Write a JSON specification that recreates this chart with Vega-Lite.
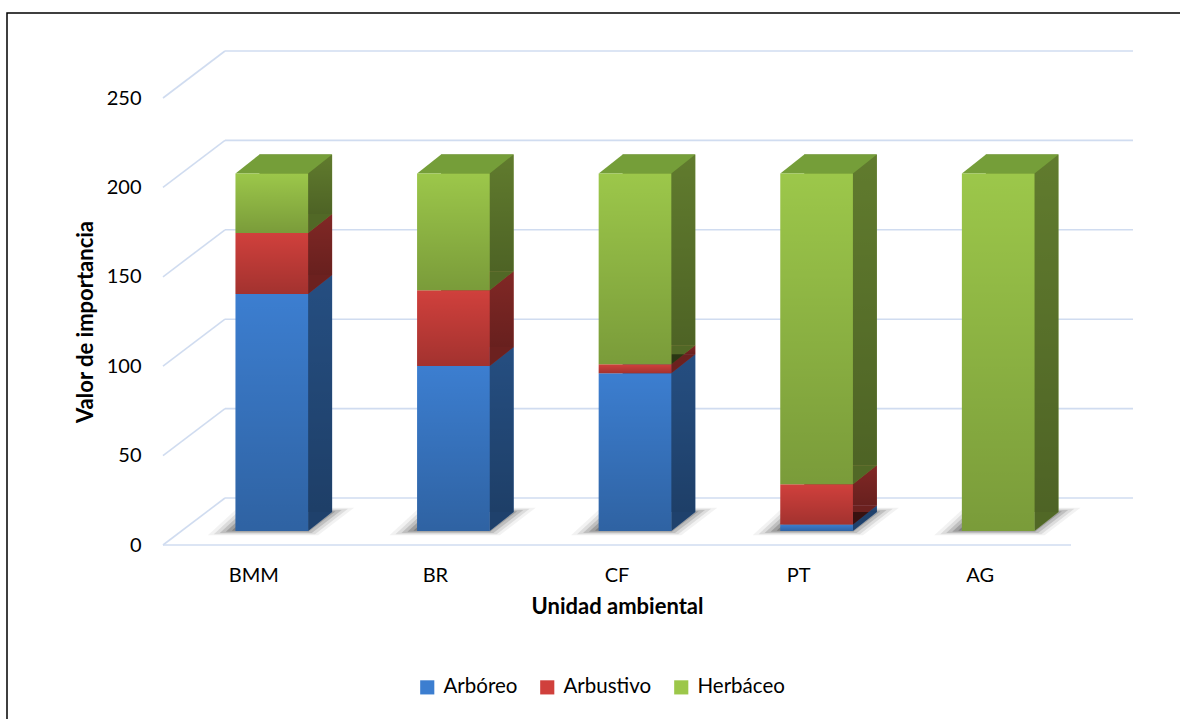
{
  "$schema": "https://vega.github.io/schema/vega-lite/v6.json",
  "autosize": "none",
  "padding": {"left": 7, "top": 13, "right": -20, "bottom": -20},
  "width": 1193,
  "height": 726,
  "background": "white",
  "config": {
    "view": {"stroke": "#000000", "strokeWidth": 1.5},
    "font": "Lato"
  },
  "datasets": {
    "valores": [
      {"unidad": "BMM", "estrato": "Arbóreo", "orden": 1, "valor": 132.6},
      {"unidad": "BMM", "estrato": "Arbustivo", "orden": 2, "valor": 34.0},
      {"unidad": "BMM", "estrato": "Herbáceo", "orden": 3, "valor": 33.4},
      {"unidad": "BR", "estrato": "Arbóreo", "orden": 1, "valor": 92.3},
      {"unidad": "BR", "estrato": "Arbustivo", "orden": 2, "valor": 42.4},
      {"unidad": "BR", "estrato": "Herbáceo", "orden": 3, "valor": 65.3},
      {"unidad": "CF", "estrato": "Arbóreo", "orden": 1, "valor": 88.2},
      {"unidad": "CF", "estrato": "Arbustivo", "orden": 2, "valor": 5.0},
      {"unidad": "CF", "estrato": "Herbáceo", "orden": 3, "valor": 106.8},
      {"unidad": "PT", "estrato": "Arbóreo", "orden": 1, "valor": 3.7},
      {"unidad": "PT", "estrato": "Arbustivo", "orden": 2, "valor": 22.5},
      {"unidad": "PT", "estrato": "Herbáceo", "orden": 3, "valor": 173.8},
      {"unidad": "AG", "estrato": "Arbóreo", "orden": 1, "valor": 0},
      {"unidad": "AG", "estrato": "Arbustivo", "orden": 2, "valor": 0},
      {"unidad": "AG", "estrato": "Herbáceo", "orden": 3, "valor": 200}
    ],
    "rejilla": [
      {"v": 0}, {"v": 50}, {"v": 100}, {"v": 150}, {"v": 200}, {"v": 250}
    ]
  },
  "layer": [
    {
      "data": {"name": "rejilla"},
      "mark": {"type": "rule", "xOffset": 62, "x2Offset": 62, "yOffset": -47, "stroke": "#d0dcf0", "strokeWidth": 1.6},
      "encoding": {
        "x": {"datum": "BMM", "bandPosition": 0},
        "x2": {"datum": "AG", "bandPosition": 1},
        "y": {"field": "v", "type": "quantitative"}
      }
    },
    {
      "data": {"name": "rejilla"},
      "mark": {"type": "rule", "x2Offset": 62, "y2Offset": -47, "stroke": "#d0dcf0", "strokeWidth": 1.6},
      "encoding": {
        "x": {"datum": "BMM", "bandPosition": 0},
        "x2": {"datum": "BMM", "bandPosition": 0},
        "y": {"field": "v", "type": "quantitative"},
        "y2": {"field": "v"}
      }
    },
    {
      "data": {"name": "rejilla"},
      "transform": [{"filter": {"field": "v", "equal": 0}}],
      "mark": {"type": "rule", "stroke": "#d0dcf0", "strokeWidth": 1.6},
      "encoding": {
        "x": {"datum": "BMM", "bandPosition": 0},
        "x2": {"datum": "AG", "bandPosition": 1},
        "y": {"field": "v", "type": "quantitative"}
      }
    },
    {
      "data": {"name": "valores"},
      "transform": [
        {"stack": "valor", "groupby": ["unidad"], "sort": [{"field": "orden", "order": "ascending"}], "as": ["y0", "y1"]}
      ],
      "layer": [
        {
          "mark": {"type": "point", "shape": "M-60,11.5L32,11.5L62,-11.5L-35,-11.5Z", "size": 5.76, "filled": true, "fill": "#000000", "opacity": 0.05, "strokeWidth": 0, "xOffset": 26, "yOffset": -23.5},
          "encoding": {
            "x": {"field": "unidad", "type": "nominal"},
            "y": {"aggregate": "min", "field": "y0", "type": "quantitative"}
          }
        },
        {
          "mark": {"type": "point", "shape": "M-60,11.5L32,11.5L62,-11.5L-35,-11.5Z", "size": 4.84, "filled": true, "fill": "#000000", "opacity": 0.09, "strokeWidth": 0, "xOffset": 26, "yOffset": -23.5},
          "encoding": {
            "x": {"field": "unidad", "type": "nominal"},
            "y": {"aggregate": "min", "field": "y0", "type": "quantitative"}
          }
        },
        {
          "mark": {"type": "point", "shape": "M-60,11.5L32,11.5L62,-11.5L-35,-11.5Z", "size": 4, "filled": true, "fill": "#000000", "opacity": 0.13, "strokeWidth": 0, "xOffset": 26, "yOffset": -23.5},
          "encoding": {
            "x": {"field": "unidad", "type": "nominal"},
            "y": {"aggregate": "min", "field": "y0", "type": "quantitative"}
          }
        },
        {
          "mark": {"type": "point", "shape": "M-60,11.5L32,11.5L62,-11.5L-35,-11.5Z", "size": 3.24, "filled": true, "fill": "#000000", "opacity": 0.17, "strokeWidth": 0, "xOffset": 26, "yOffset": -23.5},
          "encoding": {
            "x": {"field": "unidad", "type": "nominal"},
            "y": {"aggregate": "min", "field": "y0", "type": "quantitative"}
          }
        },
        {
          "mark": {"type": "point", "shape": "M-60,11.5L32,11.5L62,-11.5L-35,-11.5Z", "size": 2.56, "filled": true, "fill": "#000000", "opacity": 0.2, "strokeWidth": 0, "xOffset": 26, "yOffset": -23.5},
          "encoding": {
            "x": {"field": "unidad", "type": "nominal"},
            "y": {"aggregate": "min", "field": "y0", "type": "quantitative"}
          }
        },
        {
          "mark": {"type": "bar", "width": {"band": 0.4}, "xOffset": 42, "yOffset": -33, "y2Offset": -33},
          "encoding": {
            "x": {"field": "unidad", "type": "nominal"},
            "y": {"field": "y1", "type": "quantitative"},
            "y2": {"field": "y0"},
            "color": {"field": "estrato", "type": "nominal"}
          }
        },
        {
          "mark": {
            "type": "bar", "width": {"band": 0.4}, "xOffset": 42, "yOffset": -33, "y2Offset": -33,
            "fill": {
              "gradient": "linear", "x1": 0, "y1": 0, "x2": 0, "y2": 1,
              "stops": [
                {"offset": 0, "color": "rgba(0,0,0,0.38)"},
                {"offset": 1, "color": "rgba(0,0,0,0.5)"}
              ]
            }
          },
          "encoding": {
            "x": {"field": "unidad", "type": "nominal"},
            "y": {"field": "y1", "type": "quantitative"},
            "y2": {"field": "y0"}
          }
        },
        {
          "transform": [{"filter": "datum.valor > 0"}],
          "mark": {"type": "point", "shape": "M36.3,0L36.3,-19L60.3,-19Z", "size": 4, "filled": true, "opacity": 1, "strokeWidth": 0, "xOffset": 18, "yOffset": -14},
          "encoding": {
            "x": {"field": "unidad", "type": "nominal"},
            "y": {"field": "y0", "type": "quantitative"},
            "color": {"field": "estrato", "type": "nominal"}
          }
        },
        {
          "transform": [{"filter": "datum.valor > 0"}],
          "mark": {"type": "point", "shape": "M36.3,0L36.3,-19L60.3,-19Z", "size": 4, "filled": true, "fill": "#000000", "opacity": 0.48, "strokeWidth": 0, "xOffset": 18, "yOffset": -14},
          "encoding": {
            "x": {"field": "unidad", "type": "nominal"},
            "y": {"field": "y0", "type": "quantitative"}
          }
        },
        {
          "mark": {"type": "point", "shape": "M-36.3,0L36.3,0L60.3,-19L-12.3,-19Z", "size": 4, "filled": true, "opacity": 1, "strokeWidth": 0, "xOffset": 18, "yOffset": -14, "fill": "#759e39"},
          "encoding": {
            "x": {"field": "unidad", "type": "nominal"},
            "y": {"aggregate": "sum", "field": "valor", "type": "quantitative"}
          }
        },
        {
          "mark": {"type": "bar", "width": {"band": 0.4}, "xOffset": 18, "yOffset": -14, "y2Offset": -14},
          "encoding": {
            "x": {
              "field": "unidad", "type": "nominal",
              "scale": {"domain": ["BMM", "BR", "CF", "PT", "AG"], "range": [156, 1064], "paddingInner": 0, "paddingOuter": 0},
              "axis": {
                "title": "Unidad ambiental", "orient": "bottom", "offset": -194, "bandPosition": 0.5,
                "domain": false, "ticks": false, "grid": false, "labelAngle": 0, "labelAlign": "center",
                "labelFont": "Lato", "labelFontSize": 20, "labelColor": "#000000", "labelPadding": 30,
                "titleFont": "Lato", "titleFontWeight": "bold", "titleFontSize": 22, "titleColor": "#000000", "titlePadding": 11
              }
            },
            "y": {
              "field": "y1", "type": "quantitative",
              "scale": {"domain": [0, 250], "range": [532, 85], "nice": false, "zero": true},
              "axis": {
                "title": "Valor de importancia", "orient": "left", "offset": -134,
                "values": [0, 50, 100, 150, 200, 250],
                "domain": false, "ticks": false, "grid": false,
                "labelFont": "Lato", "labelFontSize": 20, "labelColor": "#000000", "labelPadding": 0,
                "titleFont": "Lato", "titleFontWeight": "bold", "titleFontSize": 22, "titleColor": "#000000", "titlePadding": 9
              }
            },
            "y2": {"field": "y0"},
            "color": {
              "field": "estrato", "type": "nominal",
              "scale": {"domain": ["Arbóreo", "Arbustivo", "Herbáceo"], "range": ["#3c7ed0", "#d0403c", "#9cc74a"]},
              "legend": {
                "orient": "none", "legendX": 410, "legendY": 664, "direction": "horizontal", "title": null,
                "symbolType": "square", "symbolSize": 200, "symbolStrokeWidth": 0, "symbolOpacity": 1,
                "labelFont": "Lato", "labelFontSize": 20.5, "labelColor": "#000000", "labelOffset": 6,
                "columnPadding": 19, "padding": 0
              }
            }
          }
        },
        {
          "mark": {
            "type": "bar", "width": {"band": 0.4}, "xOffset": 18, "yOffset": -14, "y2Offset": -14,
            "fill": {
              "gradient": "linear", "x1": 0, "y1": 0, "x2": 0, "y2": 1,
              "stops": [
                {"offset": 0, "color": "rgba(0,0,0,0)"},
                {"offset": 1, "color": "rgba(0,0,0,0.22)"}
              ]
            }
          },
          "encoding": {
            "x": {"field": "unidad", "type": "nominal"},
            "y": {"field": "y1", "type": "quantitative"},
            "y2": {"field": "y0"}
          }
        }
      ]
    }
  ]
}
